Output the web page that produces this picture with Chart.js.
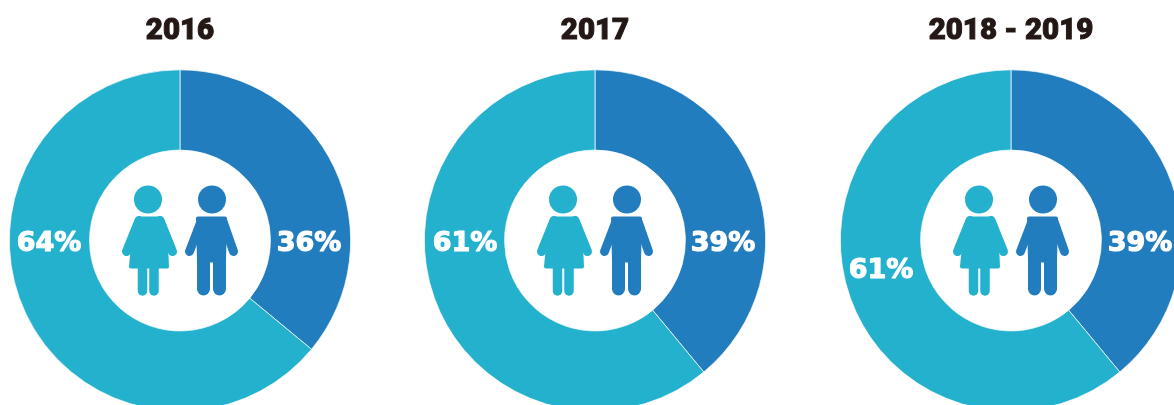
<!DOCTYPE html>
<html lang="en">
  <head>
    <meta charset="UTF-8" />
    <title>Girls and boys</title>
    <style>
      html, body {
        margin: 0;
        height: 100%;
        background: #fff;
        overflow: hidden;
      }
      canvas {
        position: absolute;
        top: 0;
      }
    </style>
  </head>
  <body>
    <canvas id="chart0" width="342" height="412" style="left: 9px"></canvas>
    <canvas id="chart1" width="342" height="412" style="left: 424px"></canvas>
    <canvas id="chart2" width="342" height="412" style="left: 840px"></canvas>

    <script src="https://cdn.jsdelivr.net/npm/chart.js"></script>
    <script>
      const periods = ["2016", "2017", "2018 - 2019"];
      const categories = ["Boys", "Girls"];
      const boys = [36, 39, 39];
      const girls = [64, 61, 61];

      const boyColor = "#227dbe";
      const girlColor = "#24b1ce";
      const titleColor = "#231815";
      const titleFont = { family: "Roboto", size: 29.5, weight: "900", lineHeight: 1 };
      const titlePadding = { top: 16.5, bottom: 23 };

      // where the two percent labels sit, relative to the centre of each ring
      const girlLabelOffset = [[-131, 3], [-130, 3], [-130, 30]];
      const boyLabelOffset = [[129, 3], [128, 3], [129, 3]];

      function limb(ctx, x1, y1, x2, y2, w) {
        ctx.lineWidth = w;
        ctx.beginPath();
        ctx.moveTo(x1, y1);
        ctx.lineTo(x2, y2);
        ctx.stroke();
      }

      function drawGirl(ctx) {
        ctx.fillStyle = girlColor;
        ctx.strokeStyle = girlColor;
        ctx.beginPath();
        ctx.arc(-32, -41, 14, 0, Math.PI * 2);
        ctx.fill();
        // arms
        limb(ctx, -41, -20, -53.5, 11, 9);
        limb(ctx, -20, -20, -7.5, 11, 9);
        // dress
        ctx.lineWidth = 4;
        ctx.beginPath();
        ctx.moveTo(-41, -22);
        ctx.lineTo(-19, -22);
        ctx.lineTo(-14, 5);
        ctx.lineTo(-13, 26);
        ctx.lineTo(-49, 26);
        ctx.lineTo(-47, 5);
        ctx.closePath();
        ctx.fill();
        ctx.stroke();
        // legs
        limb(ctx, -37.5, 26, -37.5, 50.5, 9.5);
        limb(ctx, -26, 26, -26, 50.5, 9.5);
      }

      function drawBoy(ctx) {
        ctx.fillStyle = boyColor;
        ctx.strokeStyle = boyColor;
        ctx.beginPath();
        ctx.arc(32, -41, 14, 0, Math.PI * 2);
        ctx.fill();
        // arms
        limb(ctx, 21, -19, 9.5, 11, 9);
        limb(ctx, 43, -19, 53.5, 11, 9);
        // body
        ctx.lineWidth = 4;
        ctx.beginPath();
        ctx.moveTo(18, -22);
        ctx.lineTo(45, -22);
        ctx.lineTo(44, 20);
        ctx.lineTo(19, 20);
        ctx.closePath();
        ctx.fill();
        ctx.stroke();
        // legs
        limb(ctx, 23.5, 18, 23.5, 48.5, 13);
        limb(ctx, 39.5, 18, 39.5, 48.5, 13);
      }

      const ringDecor = {
        id: "ringDecor",
        afterDatasetsDraw(chart) {
          const ctx = chart.ctx;
          const i = chart.options.plugins.ringDecor.index;
          const arc = chart.getDatasetMeta(0).data[0];
          ctx.save();
          ctx.textAlign = "center";
          ctx.textBaseline = "middle";

          // the installed bold is lighter than the original, so thicken the title
          ctx.font = "900 " + titleFont.size + "px " + titleFont.family;
          ctx.strokeStyle = titleColor;
          ctx.lineWidth = 1;
          ctx.strokeText(periods[i], chart.width / 2, titlePadding.top + titleFont.size / 2);

          ctx.translate(arc.x, arc.y);
          ctx.lineCap = "round";
          ctx.lineJoin = "round";
          drawGirl(ctx);
          drawBoy(ctx);

          ctx.fillStyle = "#fff";
          ctx.strokeStyle = "#fff";
          ctx.lineWidth = 1.2;
          ctx.font = "bold 27px 'DejaVu Sans'";
          ctx.fillText(girls[i] + "%", girlLabelOffset[i][0], girlLabelOffset[i][1]);
          ctx.strokeText(girls[i] + "%", girlLabelOffset[i][0], girlLabelOffset[i][1]);
          ctx.fillText(boys[i] + "%", boyLabelOffset[i][0], boyLabelOffset[i][1]);
          ctx.strokeText(boys[i] + "%", boyLabelOffset[i][0], boyLabelOffset[i][1]);
          ctx.restore();
        },
      };

      periods.forEach(function (period, i) {
        new Chart(document.getElementById("chart" + i), {
          type: "doughnut",
          data: {
            labels: categories,
            datasets: [
              {
                data: [boys[i], girls[i]],
                backgroundColor: [boyColor, girlColor],
                borderColor: "#fff",
                borderWidth: 0.7,
              },
            ],
          },
          options: {
            responsive: false,
            animation: false,
            cutout: "53%",
            layout: { padding: 0 },
            plugins: {
              legend: { display: false },
              tooltip: { enabled: false },
              ringDecor: { index: i },
              title: {
                display: true,
                text: period,
                color: titleColor,
                font: titleFont,
                padding: titlePadding,
              },
            },
          },
          plugins: [ringDecor],
        });
      });
    </script>
  </body>
</html>
